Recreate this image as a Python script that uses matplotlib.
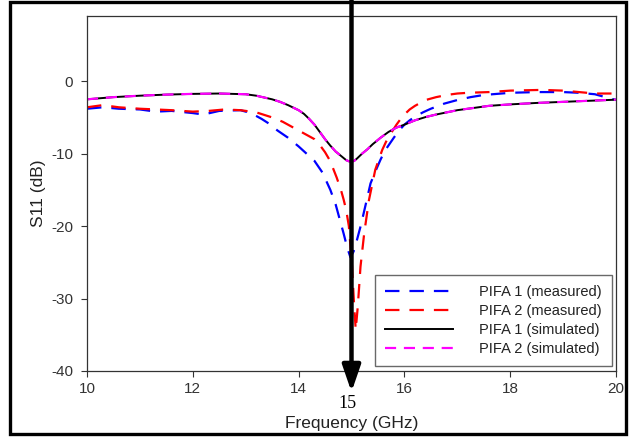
import matplotlib
matplotlib.use("Agg")
import matplotlib.pyplot as plt
from matplotlib.patches import Rectangle

plt.rcParams['font.family'] = ['Liberation Sans', 'DejaVu Sans']
plt.rcParams['axes.unicode_minus'] = False

# ---- data ----
meas1_f = [10, 10.3, 10.6, 11, 11.3, 11.6, 12, 12.2, 12.5, 12.9, 13.1, 13.3, 13.45, 13.6, 13.8,
           14.0, 14.15, 14.3, 14.45, 14.6, 14.7, 14.85, 14.92, 14.98, 15.04, 15.1, 15.18, 15.25,
           15.36, 15.46, 15.55, 15.64, 15.8, 15.9, 16.0, 16.1, 16.2, 16.35, 16.5, 16.75, 17.0,
           17.25, 17.5, 18.0, 18.5, 19.0, 19.3, 19.6, 19.9, 20.0]
meas1_db = [-3.8, -3.6, -3.8, -3.9, -4.2, -4.1, -4.4, -4.6, -4.1, -4.0, -4.4, -5.2, -5.9, -6.8, -7.8,
            -9.0, -10.0, -11.0, -12.6, -15.0, -17.0, -21.0, -23.0, -24.3, -23.5, -22.0, -19.8, -17.6,
            -14.1, -12.3, -10.8, -9.5, -7.8, -6.8, -6.0, -5.4, -4.9, -4.3, -3.8, -3.1, -2.6,
            -2.2, -1.9, -1.6, -1.5, -1.5, -1.6, -1.8, -2.4, -2.6]

meas2_f = [10, 10.3, 10.6, 11, 11.3, 11.6, 12, 12.3, 12.6, 12.9, 13.2, 13.5, 13.7, 13.85, 14.0,
           14.15, 14.3, 14.4, 14.5, 14.58, 14.65, 14.72, 14.8, 14.85, 14.9, 14.95, 15.01, 15.05,
           15.08, 15.12, 15.17, 15.24, 15.33, 15.45, 15.58, 15.65, 15.7, 15.78, 15.85, 15.92,
           16.0, 16.1, 16.2, 16.3, 16.4, 16.6, 16.8, 17.0, 17.2, 17.6, 18.0, 18.6, 19.0, 19.3,
           19.6, 20.0]
meas2_db = [-3.6, -3.3, -3.6, -3.8, -3.9, -4.0, -4.2, -4.1, -3.9, -4.0, -4.3, -5.0, -5.6, -6.2, -6.8,
            -7.4, -8.0, -8.8, -9.8, -10.8, -12.0, -13.3, -15.0, -16.3, -17.8, -20.0, -25.5, -31.0,
            -34.3, -31.0, -25.6, -21.0, -16.4, -12.2, -9.5, -8.4, -7.7, -6.8, -6.0, -5.3,
            -4.6, -3.9, -3.4, -3.0, -2.6, -2.2, -1.9, -1.7, -1.6, -1.5, -1.3, -1.2, -1.3, -1.5,
            -1.7, -1.7]

sim_f = [10, 10.5, 11, 11.5, 12, 12.5, 13, 13.2, 13.5, 13.65, 13.8, 14.0, 14.1, 14.2, 14.3, 14.4,
         14.5, 14.6, 14.7, 14.8, 14.9, 14.95, 15.0, 15.05, 15.1, 15.2, 15.3, 15.4, 15.55, 15.7,
         15.85, 16.0, 16.2, 16.4, 16.6, 16.8, 17.0, 17.6, 18.0, 18.5, 19.0, 19.5, 20.0]
sim1_db = [-2.5, -2.2, -2.0, -1.85, -1.75, -1.7, -1.8, -2.0, -2.5, -2.85, -3.3, -4.0, -4.5, -5.2,
           -6.0, -7.0, -8.0, -8.9, -9.7, -10.3, -10.9, -11.05, -11.1, -11.0, -10.7, -10.0, -9.4,
           -8.7, -7.8, -7.0, -6.4, -6.0, -5.4, -4.95, -4.6, -4.3, -4.0, -3.4, -3.2, -3.0, -2.85,
           -2.7, -2.55]
sim2_db = [-2.5, -2.2, -2.0, -1.85, -1.75, -1.7, -1.8, -2.0, -2.5, -2.85, -3.3, -4.0, -4.5, -5.2,
           -6.0, -7.0, -8.0, -8.9, -9.7, -10.3, -10.9, -11.05, -11.1, -11.0, -10.7, -10.0, -9.4,
           -8.7, -7.8, -7.0, -6.4, -6.0, -5.4, -4.95, -4.6, -4.3, -4.0, -3.4, -3.2, -3.0, -2.85,
           -2.7, -2.55]

labels = ["PIFA 1 (measured)", "PIFA 2 (measured)", "PIFA 1 (simulated)", "PIFA 2 (simulated)"]
x_ticks = [10, 12, 14, 16, 18, 20]
y_ticks = [-40, -30, -20, -10, 0]
marker_freq = 15

# ---- figure ----
W, H = 633, 437
fig = plt.figure(figsize=(W / 100, H / 100), dpi=100)
ax = fig.add_axes([87 / W, 1 - 371 / H, (616 - 87) / W, (371 - 16) / H])

ax.plot(meas1_f, meas1_db, color='#0000ff', lw=1.6, dashes=(6.5, 4.5), label=labels[0])
ax.plot(meas2_f, meas2_db, color='#ff0000', lw=1.6, dashes=(6.5, 4.5), label=labels[1])
ax.plot(sim_f, sim1_db, color='black', lw=1.4, label=labels[2])
ax.plot(sim_f, sim2_db, color='#ff00ff', lw=1.6, dashes=(5, 3.5), label=labels[3])

ax.set_xlim(10, 20)
ax.set_ylim(-40, 9)
ax.set_xticks(x_ticks)
ax.set_yticks(y_ticks)
ax.tick_params(direction='out', length=4, width=0.8, labelsize=11, colors='#333333', pad=4)
ax.tick_params(axis='y', pad=6)
for s in ax.spines.values():
    s.set_color('#333333')
    s.set_linewidth(0.9)

ax.set_xlabel("Frequency (GHz)", fontsize=12.5, color='#222222', labelpad=14)
ax.set_ylabel("S11 (dB)", fontsize=12.5, color='#222222', labelpad=4)

leg = ax.legend(loc='lower right', bbox_to_anchor=(612 / W, 1 - 366 / H),
                bbox_transform=fig.transFigure, fontsize=10.5, frameon=True, fancybox=False,
                handlelength=4.65, handletextpad=1.8, labelspacing=0.33, borderpad=0.7,
                borderaxespad=0)
leg.get_frame().set_edgecolor('#444444')
leg.get_frame().set_linewidth(1.0)
for t in leg.get_texts():
    t.set_color('#222222')

# vertical arrow marking 15 GHz
ax.annotate('', xy=(marker_freq, (371 - 392) / 355), xycoords=('data', 'axes fraction'),
            xytext=(marker_freq, (371 - 0) / 355), textcoords=('data', 'axes fraction'),
            arrowprops=dict(arrowstyle='-|>,head_length=1.6,head_width=0.55', lw=3.2,
                            color='black', shrinkA=0, shrinkB=0),
            annotation_clip=False)
ax.text(marker_freq - 0.07, (371 - 403) / 355, "15", transform=ax.get_xaxis_transform(),
        ha='center', va='center', fontsize=13, family='Liberation Serif', color='black')

# outer frame
fig.patches.append(Rectangle((10 / W, 1 - 434 / H), (626 - 10) / W, (434 - 2) / H,
                             transform=fig.transFigure, fill=False, edgecolor='black', lw=2.4))

fig.savefig("out.png", dpi=100)
